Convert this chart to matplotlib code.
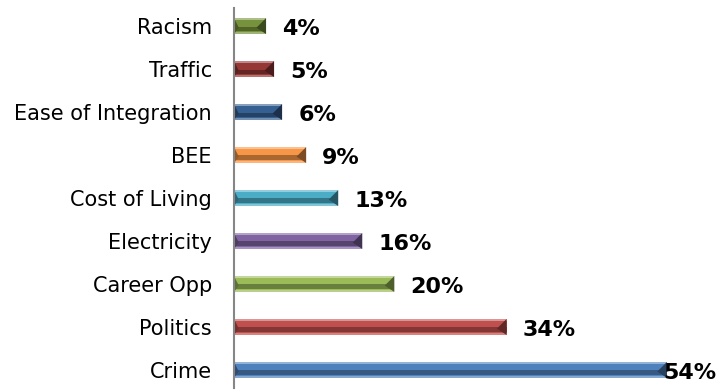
import matplotlib.pyplot as plt
from matplotlib.patches import Polygon
import numpy as np

# survey results, bottom to top
categories = ['Crime', 'Politics', 'Career Opp', 'Electricity', 'Cost of Living',
              'BEE', 'Ease of Integration', 'Traffic', 'Racism']
values = [54, 34, 20, 16, 13, 9, 6, 5, 4]
colors = ['#4F81BD', '#C0504D', '#9BBB59', '#8064A2', '#4BACC6',
          '#F79646', '#376092', '#953735', '#76923C']


def shade(c, f):
    c = np.array(plt.matplotlib.colors.to_rgb(c))
    if f < 1:
        return tuple(c * f)
    return tuple(c + (1 - c) * (f - 1))


fig = plt.figure(figsize=(7.22, 3.9), dpi=100)
ax = fig.add_axes([234 / 722, 2 / 390, 481 / 722, 380 / 390])

y = np.arange(len(categories))
h = 0.37
x = np.array(values) / 100.0

# beveled bars: base face, dark band below the middle, light edges
ax.barh(y, x, height=h, color=colors, edgecolor='none')
ax.barh(y + h * 0.44, x, height=h * 0.12, color=[shade(c, 1.4) for c in colors], edgecolor='none')
ax.barh(y - h * 0.16, x, height=h * 0.26, color=[shade(c, 0.68) for c in colors], edgecolor='none')
ax.barh(y - h * 0.44, x, height=h * 0.12, color=[shade(c, 1.3) for c in colors], edgecolor='none')
for yi, xi, c in zip(y, x, colors):
    d = 0.012
    ax.add_patch(Polygon([[xi - d, yi - h * 0.1], [xi, yi + h / 2], [xi, yi - h / 2]], closed=True,
                         facecolor=shade(c, 0.5), edgecolor='none'))
    ax.add_patch(Polygon([[0, yi - h / 2], [0.006, yi - h * 0.1], [0, yi + h / 2]], closed=True,
                         facecolor=shade(c, 0.6), edgecolor='none'))

for yi, v in zip(y, values):
    lx = min(v / 100.0 + 0.02, 0.535)
    ax.text(lx, yi - 0.06, f'{v}%', ha='left', va='center', fontsize=16,
            fontweight='bold', color='black')

ax.set_xlim(0, 0.6)
ax.set_ylim(-0.42, 8.42)
ax.set_yticks(y)
ax.set_yticklabels(categories, fontsize=15)
ax.tick_params(axis='y', length=0, pad=16)
ax.set_xticks([])
for s in ['top', 'right', 'bottom']:
    ax.spines[s].set_visible(False)
ax.spines['left'].set_color('#868686')
ax.spines['left'].set_linewidth(1.5)

fig.savefig('out.png', dpi=100)
